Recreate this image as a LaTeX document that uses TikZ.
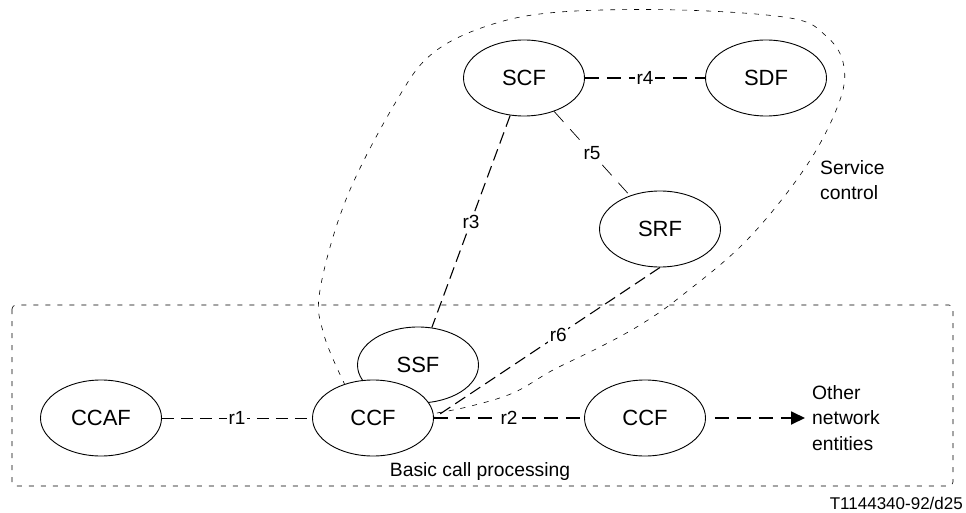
\documentclass[tikz,border=0pt]{standalone}
\usepackage{fontspec}
\setmainfont{Liberation Sans}
\usetikzlibrary{shapes.geometric,arrows.meta}
\begin{document}
\begin{tikzpicture}[x=1pt,y=-1pt,
  ent/.style={ellipse,draw,line width=0.9pt,fill=white,minimum width=121pt,minimum height=76pt,inner sep=0pt,font=\fontsize{22}{26}\selectfont},
  lbl/.style={fill=white,inner sep=1.5pt,font=\fontsize{19}{23}\selectfont},
  note/.style={inner sep=0pt,align=left,font=\fontsize{19.3}{25.5}\selectfont},
  thinlink/.style={line width=0.7pt,dash pattern=on 12pt off 7pt},
  medlink/.style={line width=1.1pt,dash pattern=on 12pt off 6pt},
  thicklink/.style={line width=1.8pt,dash pattern=on 14pt off 8pt},
  boundary/.style={line width=0.6pt,dash pattern=on 5pt off 7pt}
]
\useasboundingbox (0,0) rectangle (966,513);

% basic call processing area
\draw[boundary,rounded corners=4pt] (12,305) rectangle (953,486);
% service control area
\draw[boundary] plot[smooth,tension=0.6] coordinates {(425,415) (467,407) (513,393) (553,370) (600,347) (640,325) (680,297) (747,240) (807,165) (840,100) (843,62) (825,35) (790,18) (680,10) (560,12) (490,25) (433,53) (397,100) (347,197) (320,290) (324,335) (345,385)};

% entities
\node[ent] (SCF) at (524,78) {SCF};
\node[ent] (SDF) at (766,78) {SDF};
\node[ent] (SRF) at (660,229) {SRF};
\node[ent] (SSF) at (418,365) {SSF};
\node[ent] (CCF1) at (373,418) {CCF};
\node[ent] (CCF2) at (645,418) {CCF};
\node[ent] (CCAF) at (101,418) {CCAF};

% texts
\node[note,anchor=west] (ONE) at (812,418) {Other\\network\\entities};
\node[note,anchor=west] (SC) at (820,180) {Service\\control};
\node[note] (BCP) at (480,472) {Basic call processing};
\node[inner sep=0pt,anchor=east,font=\fontsize{17}{20}\selectfont] (REF) at (963,503) {T1144340-92/d25};

% relations
\draw[thinlink] (CCAF) -- node[lbl]{r1} (CCF1);
\draw[thicklink] (CCF1) -- node[lbl]{r2} (CCF2);
\draw[medlink] (SCF) -- node[lbl]{r3} (SSF);
\draw[thicklink] (SCF) -- node[lbl]{r4} (SDF);
\draw[thinlink,dash pattern=on 14pt off 10pt] (SCF) -- node[lbl]{r5} (SRF);
\draw[medlink] (SRF.south) -- node[lbl,pos=0.45]{r6} (CCF1.east);
\draw[thicklink,-{Triangle[length=14pt,width=13pt]},shorten <=9pt,shorten >=7pt] (CCF2.east) -- (ONE.west);
\end{tikzpicture}
\end{document}
